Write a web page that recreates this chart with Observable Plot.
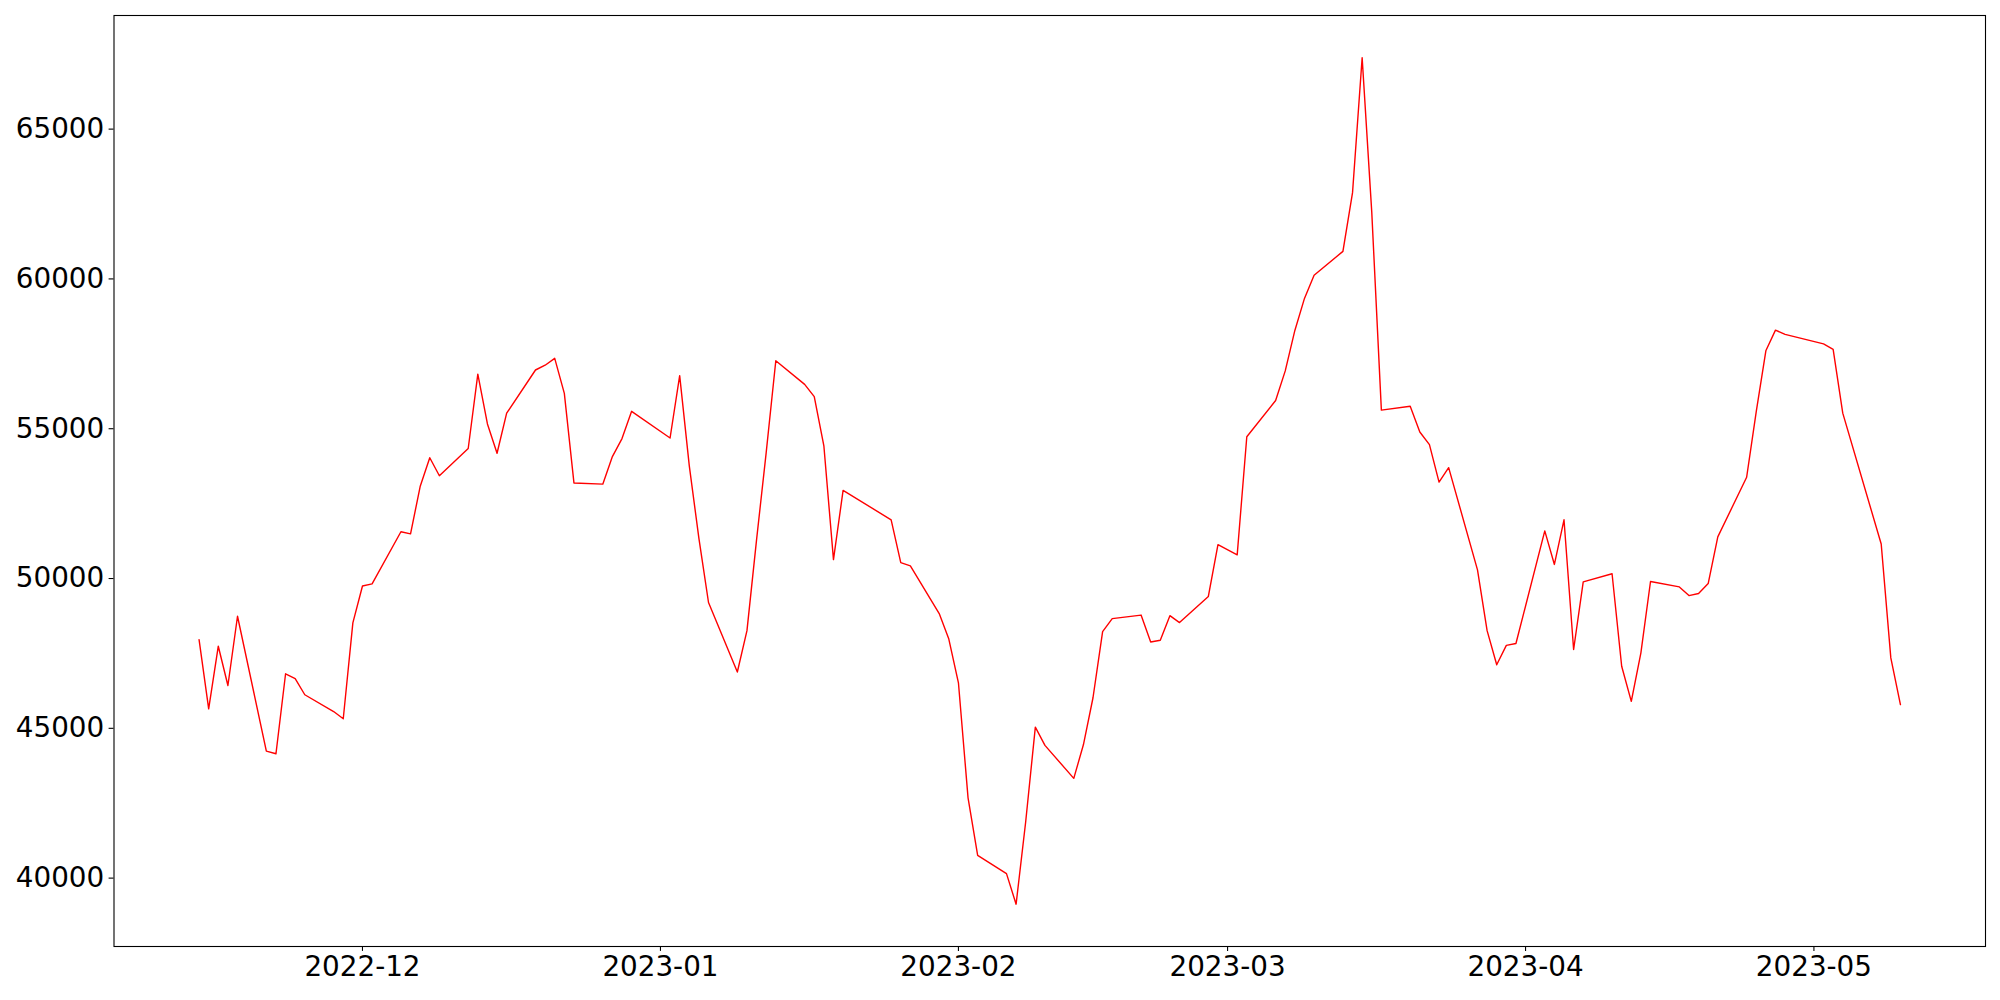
<!DOCTYPE html>
<html>
<head>
<meta charset="utf-8">
<script src="https://cdn.jsdelivr.net/npm/d3@7"></script>
<script src="https://cdn.jsdelivr.net/npm/@observablehq/plot@0.6"></script>
<style>
  html, body { margin: 0; padding: 0; background: #fff; overflow: hidden; }
  #chart svg { display: block; }
</style>
</head>
<body>
<div id="chart"></div>
<script>
// Trading dates (weekdays, market holidays absent)
const dates = [
  "2022-11-14","2022-11-15","2022-11-16","2022-11-17","2022-11-18",
  "2022-11-21","2022-11-22","2022-11-23","2022-11-24","2022-11-25",
  "2022-11-28","2022-11-29","2022-11-30","2022-12-01","2022-12-02",
  "2022-12-05","2022-12-06","2022-12-07","2022-12-08","2022-12-09",
  "2022-12-12","2022-12-13","2022-12-14","2022-12-15","2022-12-16",
  "2022-12-19","2022-12-20","2022-12-21","2022-12-22","2022-12-23",
  "2022-12-26","2022-12-27","2022-12-28","2022-12-29",
  "2023-01-02","2023-01-03","2023-01-04","2023-01-05","2023-01-06",
  "2023-01-09","2023-01-10","2023-01-11","2023-01-12","2023-01-13",
  "2023-01-16","2023-01-17","2023-01-18","2023-01-19","2023-01-20",
  "2023-01-25","2023-01-26","2023-01-27",
  "2023-01-30","2023-01-31","2023-02-01","2023-02-02","2023-02-03",
  "2023-02-06","2023-02-07","2023-02-08","2023-02-09","2023-02-10",
  "2023-02-13","2023-02-14","2023-02-15","2023-02-16","2023-02-17",
  "2023-02-20","2023-02-21","2023-02-22","2023-02-23","2023-02-24",
  "2023-02-27","2023-02-28","2023-03-02","2023-03-03",
  "2023-03-06","2023-03-07","2023-03-08","2023-03-09","2023-03-10",
  "2023-03-13","2023-03-14","2023-03-15","2023-03-16","2023-03-17",
  "2023-03-20","2023-03-21","2023-03-22","2023-03-23","2023-03-24",
  "2023-03-27","2023-03-28","2023-03-29","2023-03-30","2023-03-31",
  "2023-04-03","2023-04-04","2023-04-05","2023-04-06","2023-04-07",
  "2023-04-10","2023-04-11","2023-04-12","2023-04-13","2023-04-14",
  "2023-04-17","2023-04-18","2023-04-19","2023-04-20","2023-04-21",
  "2023-04-24","2023-04-25","2023-04-26","2023-04-27","2023-04-28",
  "2023-05-02","2023-05-03","2023-05-04",
  "2023-05-08","2023-05-09","2023-05-10"
];

const values = [
  47960, 45650, 47740, 46430, 48740,
  44240, 44150, 46820, 46660, 46120,
  45560, 45320, 48520, 49750, 49820,
  51560, 51490, 53070, 54030, 53430,
  54340, 56820, 55160, 54180, 55520,
  56960, 57120, 57350, 56180, 53190,
  53150, 54070, 54670, 55580,
  54690, 56770, 53760, 51340, 49200,
  46880, 48260, 51300, 54200, 57270,
  56480, 56070, 54430, 50630, 52940,
  51960, 50530, 50420,
  48830, 47980, 46520, 42680, 40760,
  40150, 39130, 41890, 45040, 44430,
  43330, 44450, 46020, 48230, 48660,
  48780, 47880, 47940, 48760, 48530,
  49400, 51130, 50790, 54730,
  55940, 56930, 58280, 59350, 60120,
  60920, 62880, 67380, 62230, 55620,
  55750, 54890, 54470, 53220, 53700,
  50290, 48260, 47120, 47770, 47830,
  51590, 50470, 51960, 47630, 49890,
  50160, 47070, 45900, 47520, 49900,
  49720, 49430, 49500, 49830, 51390,
  53380, 55570, 57600, 58290, 58150,
  57830, 57650, 55520,
  51150, 47350, 45790
];

const monthTicks = ["2022-12", "2023-01", "2023-02", "2023-03", "2023-04", "2023-05"];
const yTicks = [40000, 45000, 50000, 55000, 60000, 65000];

const data = dates.map((d, i) => ({date: new Date(d), value: values[i]}));

// matplotlib-style 5% data margins
const [t0, t1] = d3.extent(data, d => +d.date);
const tPad = (t1 - t0) * 0.05;
const [v0, v1] = d3.extent(values);
const vPad = (v1 - v0) * 0.05;

const fontSize = 27.8;
const font = "DejaVu Sans";

const chart = Plot.plot({
  width: 2000,
  height: 1000,
  marginLeft: 113.5,
  marginRight: 15,
  marginTop: 15,
  marginBottom: 54,
  style: {fontFamily: font, background: "#fff", color: "#000"},
  x: {type: "utc", domain: [new Date(t0 - tPad), new Date(t1 + tPad)]},
  y: {domain: [v0 - vPad, v1 + vPad]},
  marks: [
    Plot.lineY(data, {x: "date", y: "value", stroke: "red", strokeWidth: 1.4}),
    Plot.frame({stroke: "#000", strokeWidth: 1.1}),
    Plot.axisX(monthTicks.map(m => new Date(m + "-01")), {
      tickFormat: d3.utcFormat("%Y-%m"),
      tickSize: 4.9, tickPadding: 4.9, strokeWidth: 1.1,
      fontSize, fontFamily: font, label: null
    }),
    Plot.axisY(yTicks, {
      tickFormat: d => String(d),
      tickSize: 4.9, tickPadding: 4.9, strokeWidth: 1.1,
      fontSize, fontFamily: font, label: null
    })
  ]
});

document.getElementById("chart").appendChild(chart);
</script>
</body>
</html>
